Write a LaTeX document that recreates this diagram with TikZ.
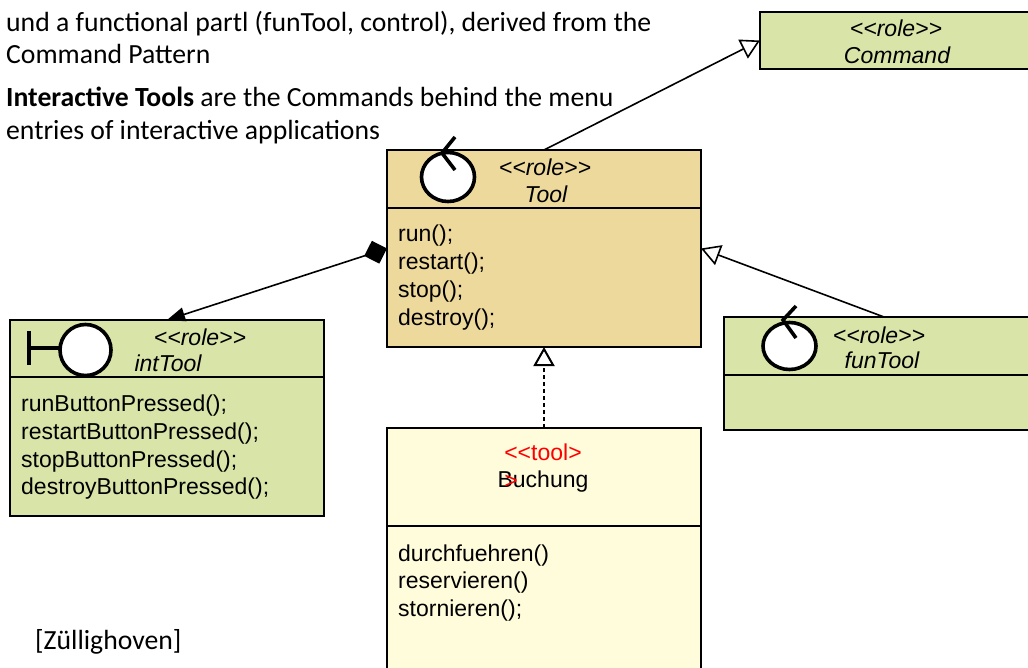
\documentclass[tikz,border=0pt]{standalone}
\usepackage{fontspec}
\setmainfont{Carlito}
\newfontfamily\umlfont[Ligatures=NoCommon]{Liberation Sans}
\usetikzlibrary{arrows.meta}
\definecolor{rolegreen}{HTML}{D9E4A8}
\definecolor{tooltan}{HTML}{EDD99C}
\definecolor{buchyellow}{HTML}{FFFCDC}
\tikzset{
  umlbox/.style={draw=black,line width=1.6pt,inner sep=0pt,outer sep=0pt,anchor=north west},
  prose/.style={anchor=base west,inner sep=0pt,font=\fontsize{27.7}{33}\selectfont},
  member/.style={anchor=base west,inner sep=0pt,font=\umlfont\fontsize{23}{27}\selectfont},
  rolelabel/.style={anchor=base,inner sep=0pt,font=\umlfont\itshape\fontsize{23}{27}\selectfont},
  namelabel/.style={anchor=base,inner sep=0pt,font=\umlfont\fontsize{23}{27}\selectfont},
  divider/.style={line width=1.6pt},
  icon/.style={draw=black,line width=3.6pt,fill=white},
  iconline/.style={draw=black,line width=3.6pt},
  assoc/.style={line width=1.6pt},
  realize/.style={-{Triangle[open,fill=white,length=19pt,width=21pt]}},
}
\begin{document}
\begin{tikzpicture}[x=1pt,y=-1pt]
\useasboundingbox (0,0) rectangle (1028,667);
\clip (0,0) rectangle (1028,667);

% prose
\node[prose] (p1) at (6,31) {und a functional partl (funTool, control), derived from the};
\node[prose] (p2) at (6,63) {Command Pattern};
\node[prose] (p3) at (6,106) {\textbf{Interactive Tools} are the Commands behind the menu};
\node[prose] (p4) at (6,139) {entries of interactive applications};
\node[prose] (zu) at (35,649) {[Züllighoven]};

% boxes
\node[umlbox,fill=rolegreen,minimum width=290pt,minimum height=57pt] (command) at (760,12) {};
\node[umlbox,fill=tooltan,minimum width=314pt,minimum height=197pt] (tool) at (387,150) {};
\node[umlbox,fill=rolegreen,minimum width=314pt,minimum height=196pt] (inttool) at (10,320) {};
\node[umlbox,fill=rolegreen,minimum width=320pt,minimum height=113pt] (funtool) at (724,317) {};
\node[umlbox,fill=buchyellow,minimum width=314pt,minimum height=260pt] (buchung) at (387,428) {};

% compartment dividers
\draw[divider] (tool.west |- 0,208) -- (tool.east |- 0,208);
\draw[divider] (inttool.west |- 0,377) -- (inttool.east |- 0,377);
\draw[divider] (funtool.west |- 0,375) -- (funtool.east |- 0,375);
\draw[divider] (buchung.west |- 0,526) -- (buchung.east |- 0,526);

% connectors
\draw[assoc,realize] (tool.north) -- (command.west);
\draw[assoc,realize] (funtool.north) -- (tool.east);
\draw[assoc,realize,line width=2pt,dash pattern=on 4pt off 3pt] (buchung.north) -- (tool.south);
\draw[assoc,{Diamond[length=24pt,width=24pt]}-{Triangle[length=18pt,width=14pt]}] (tool.west) -- (inttool.north);

% icons
\draw[icon] (448,177) ellipse [x radius=26.5, y radius=24.5];
\draw[iconline] (455,137) -- (442,153) -- (455,170);
\draw[icon] (789.5,346) ellipse [x radius=26.5, y radius=23.5];
\draw[iconline] (796,306) -- (783,320) -- (796,338);
\draw[icon] (85.5,350) circle [radius=25.5];
\draw[iconline] (29,331) -- (29,365);
\draw[iconline] (29,348) -- (59,348);

% header labels
\node[rolelabel] (c1) at (896,36) {<{}<role>{}>};
\node[rolelabel] (c2) at (897,63) {Command};
\node[rolelabel] (t1) at (545,175) {<{}<role>{}>};
\node[rolelabel] (t2) at (546,202) {Tool};
\node[rolelabel] (i1) at (200,345) {<{}<role>{}>};
\node[rolelabel] (i2) at (168,371) {intTool};
\node[rolelabel] (f1) at (879,343) {<{}<role>{}>};
\node[rolelabel] (f2) at (882,368) {funTool};
\node[namelabel,text=red] (b1) at (543,460) {<{}<tool>};
\node[namelabel] (b2) at (543,487) {Buchung};
\node[namelabel,text=red] (b3) at (511,488) {>};

% members
\node[member] (m1) at (398,241) {run();};
\node[member] (m2) at (398,269) {restart();};
\node[member] (m3) at (398,297) {stop();};
\node[member] (m4) at (398,325) {destroy();};
\node[member] (n1) at (21,411) {runButtonPressed();};
\node[member] (n2) at (21,439) {restartButtonPressed();};
\node[member] (n3) at (21,467) {stopButtonPressed();};
\node[member] (n4) at (21,494) {destroyButtonPressed();};
\node[member] (o1) at (398,561) {durchfuehren()};
\node[member] (o2) at (398,588) {reservieren()};
\node[member] (o3) at (398,616) {stornieren();};
\end{tikzpicture}
\end{document}
